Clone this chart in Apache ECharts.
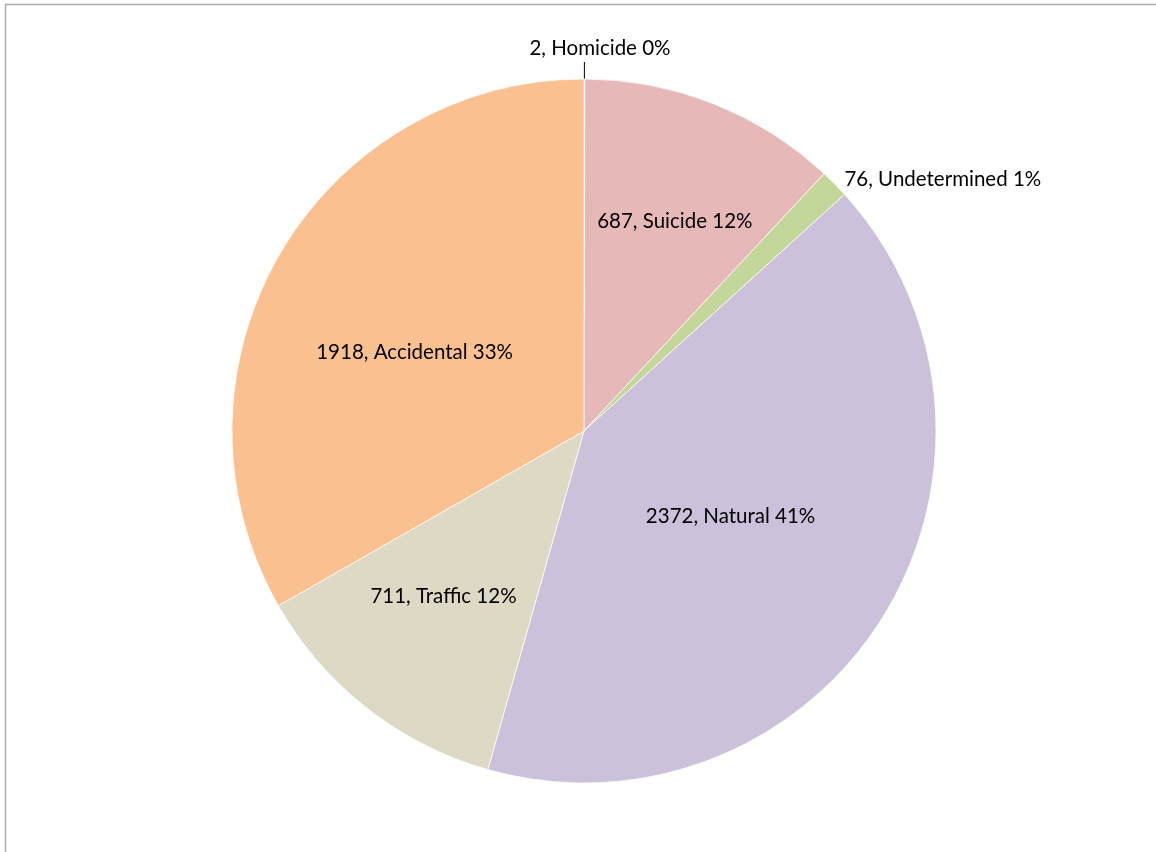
<!DOCTYPE html>
<html>
<head>
<meta charset="utf-8">
<style>
  html, body { margin: 0; padding: 0; background: #ffffff; }
  #chart { width: 1156px; height: 852px; }
</style>
<script src="https://cdn.jsdelivr.net/npm/echarts@6/dist/echarts.min.js"></script>
</head>
<body>
<div id="chart"></div>
<script>
// ---- data ----
const categories = ['Homicide', 'Suicide', 'Undetermined', 'Natural', 'Traffic', 'Accidental'];
const values = [2, 687, 76, 2372, 711, 1918];

// ---- styles ----
const colors = ['#95B3D7', '#E6B9B8', '#C4D79B', '#CCC1DA', '#DDD9C4', '#FAC090'];
const labelPlacement = ['outside', 'inside', 'outside', 'inside', 'inside', 'inside'];
const labelRadiusFactor = [null, 0.64, null, 0.48, 0.62, 0.53];
const labelNudge = [[-60, -14], [8, 0], [2, -2], [3, -4], [-6, -6], [-8, 15]];

const CX = 584, CY = 431, R = 352;
const total = values.reduce((a, b) => a + b, 0);

const chart = echarts.init(document.getElementById('chart'), null, { renderer: 'canvas' });

const data = categories.map((name, i) => {
  const outside = labelPlacement[i] === 'outside';
  return {
    name: name,
    value: values[i],
    itemStyle: { color: colors[i] },
    label: { position: outside ? 'outside' : 'inside' },
    labelLine: {
      show: i === 0,
      length: i === 0 ? 17 : 4,
      length2: 0,
      lineStyle: { color: '#000', width: 1 }
    }
  };
});

chart.setOption({
  animation: false,
  backgroundColor: '#ffffff',
  graphic: [{
    type: 'rect',
    shape: { x: 5.5, y: 4.5, width: 1300, height: 1000 },
    style: { fill: 'none', stroke: '#ABABAB', lineWidth: 1.5 },
    silent: true
  }],
  series: [{
    type: 'pie',
    center: [CX, CY],
    radius: [0, R],
    startAngle: 90,
    clockwise: true,
    avoidLabelOverlap: false,
    minAngle: 0,
    itemStyle: { borderColor: 'rgba(255,255,255,0.7)', borderWidth: 1 },
    label: {
      show: true,
      color: '#000000',
      fontFamily: 'Lato',
      fontSize: 20.5,
      formatter: function (p) {
        return p.value + ', ' + p.name + ' ' + Math.round(p.value / total * 100) + '%';
      }
    },
    labelLayout: function (params) {
      const i = params.dataIndex;
      const r = params.labelRect;
      const n = labelNudge[i] || [0, 0];
      const k = labelRadiusFactor[i];
      if (k == null) return { dx: n[0], dy: n[1] };
      const lx = r.x + r.width / 2, ly = r.y + r.height / 2;
      const dx = lx - CX, dy = ly - CY;
      const d = Math.sqrt(dx * dx + dy * dy) || 1;
      const target = k * R;
      return { dx: dx / d * (target - d) + n[0], dy: dy / d * (target - d) + n[1] };
    },
    emphasis: { disabled: true },
    data: data
  }]
});
</script>
</body>
</html>
